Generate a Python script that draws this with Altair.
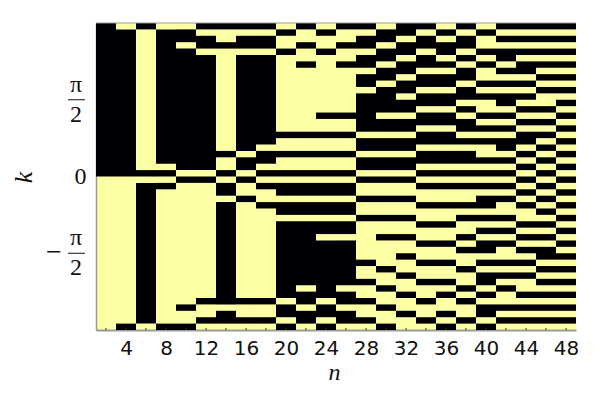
import math
import altair as alt
import pandas as pd

BLACK = "#000004"
YELLOW = "#FCFFA4"
GREY = "#999999"

# one string per k row (top to bottom), one character per pair of n columns; 1 = black
rows = [
    "101001111010110110101111",
    "110110000101001101010000",
    "110111011000011010101111",
    "110101111010110111100000",
    "110110000101001101011111",
    "110111011000011010101000",
    "110111011010110111010111",
    "110111011000001100101100",
    "110111011000011011100011",
    "110111011000010111011100",
    "110111011000001100100011",
    "110111011000011011111100",
    "110111011000011111001001",
    "110111011000011100100110",
    "110111011001110011011001",
    "110111011000011111100110",
    "110111011000011100111001",
    "110111011111100011000110",
    "110111011000011111111101",
    "110111010000011100001010",
    "110111101111100011100101",
    "110111011000011111111010",
    "110011010000011100000101",
    "111100101111100011111010",
    "000011010000011100000101",
    "001100101111100011111010",
    "001000100111100000000101",
    "001000010000011100011010",
    "001000101111100011110101",
    "001000100111100000000010",
    "001000100000011100111001",
    "001000100111100011000110",
    "001000100111100000011001",
    "001000100110001100100110",
    "001000100111100011011001",
    "001000100111100000110110",
    "001000100111100100000011",
    "001000100111110011011100",
    "001000100111101000100011",
    "001000100111100100011100",
    "001000100111110011010011",
    "001000100101001000101000",
    "001000100111100101010111",
    "001001111010110010100000",
    "001010000101001000011111",
    "001000100111100101010000",
    "001001111010110010101111",
    "010110000101001001010000",
]
n_ticks = [4, 8, 12, 16, 20, 24, 28, 32, 36, 40, 44, 48]
n_minor = list(range(2, 49, 2))
frac_k = [math.pi / 2, -math.pi / 2]

nrows = len(rows)
dk = 2 * math.pi / nrows

# black runs per column pair, so that neighbouring cells leave no seam
cells = []
for c in range(len(rows[0])):
    r = 0
    while r < nrows:
        if rows[r][c] == "1":
            s = r
            while r < nrows and rows[r][c] == "1":
                r += 1
            cells.append(
                {"n": 1 + 2 * c, "n2": 3 + 2 * c,
                 "k": math.pi - s * dk, "k2": math.pi - r * dk}
            )
        else:
            r += 1

W, H = 480, 307
x_scale = alt.Scale(domain=[1, 49], nice=False, zero=False)
y_scale = alt.Scale(domain=[-math.pi, math.pi], nice=False, zero=False)

base = (
    alt.Chart(pd.DataFrame(cells))
    .mark_rect(color=BLACK, strokeWidth=0)
    .encode(
        x=alt.X(
            "n:Q", scale=x_scale,
            axis=alt.Axis(
                values=n_ticks, grid=False, tickSize=0, domainColor=GREY, domainWidth=2,
                labelFont="DejaVu Sans", labelFontSize=20, labelColor="#111111",
                labelPadding=8, labelFlush=False, labelOverlap=False, format="d",
                title="n", titleFont="Liberation Serif", titleFontStyle="italic",
                titleFontWeight="normal", titleFontSize=24, titleColor="#111111",
                titlePadding=2, titleX=238,
            ),
        ),
        x2="n2:Q",
        y=alt.Y(
            "k:Q", scale=y_scale,
            axis=alt.Axis(
                values=[0], grid=False, tickSize=0, domainColor=GREY, domainWidth=1.5,
                labelFont="Liberation Serif", labelFontSize=24, labelColor="#111111",
                labelPadding=10, format="d",
                title="k", titleFont="Liberation Serif", titleFontStyle="italic",
                titleFontWeight="normal", titleFontSize=26, titleColor="#111111",
                titleX=-60, titleY=154,
            ),
        ),
        y2="k2:Q",
    )
)

top_edge = alt.Chart(pd.DataFrame({"a": [0]})).mark_rule(color=GREY, strokeWidth=1).encode(
    x=alt.value(0), x2=alt.value(W), y=alt.value(0)
)
minor = alt.Chart(pd.DataFrame({"n": n_minor})).mark_rule(color="#333333", strokeWidth=1).encode(
    x=alt.X("n:Q", scale=x_scale), y=alt.value(H - 2), y2=alt.value(H)
)

frac = pd.DataFrame({"k": frac_k})
text_kw = dict(font="Liberation Serif", fontSize=24, color="#111111", baseline="middle", align="center")
pi_txt = alt.Chart(frac).mark_text(text="π", dy=-15, **text_kw).encode(
    x=alt.value(-20), y=alt.Y("k:Q", scale=y_scale)
)
two_txt = alt.Chart(frac).mark_text(text="2", dy=15, **text_kw).encode(
    x=alt.value(-20), y=alt.Y("k:Q", scale=y_scale)
)
bar = alt.Chart(frac).mark_rule(color="#111111", strokeWidth=1).encode(
    x=alt.value(-28), x2=alt.value(-11), y=alt.Y("k:Q", scale=y_scale)
)
minus = alt.Chart(pd.DataFrame({"k": [-math.pi / 2]})).mark_text(
    text="−", dy=0, font="Liberation Serif", fontSize=28, color="#111111",
    baseline="middle", align="center",
).encode(x=alt.value(-42), y=alt.Y("k:Q", scale=y_scale))

chart = (
    alt.layer(base, top_edge, minor, bar, minus, pi_txt, two_txt)
    .properties(
        width=W, height=H,
        padding={"left": 88, "top": 15, "right": 16, "bottom": 60},
        autosize=alt.AutoSizeParams(type="none"),
        background="white",
    )
    .configure_view(fill=YELLOW, stroke=None)
)

chart.save("out.html", embed_options={"renderer": "svg", "actions": False})
